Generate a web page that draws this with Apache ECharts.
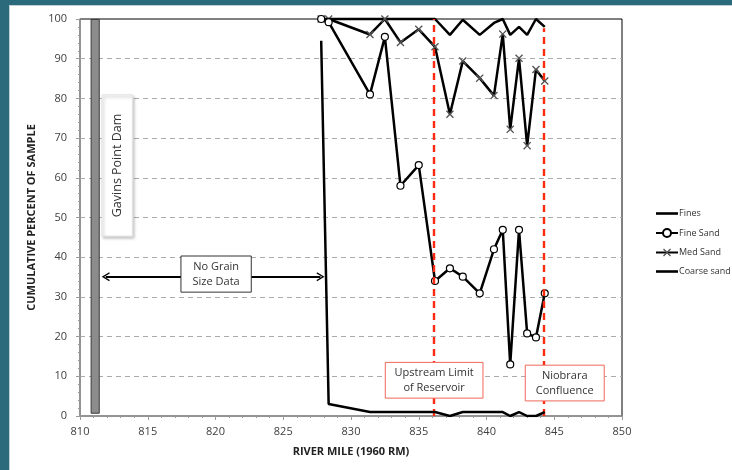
<!DOCTYPE html>
<html><head><meta charset="utf-8">
<script src="https://cdn.jsdelivr.net/npm/echarts@6/dist/echarts.min.js"></script>
<style>
html,body{margin:0;padding:0;width:732px;height:470px;overflow:hidden;background:#2b6a7b;}
#frame{position:absolute;left:9px;top:5px;width:723px;height:465px;background:#fff;border-left:1px solid #c3cfd2;border-top:1px solid #c3cfd2;box-sizing:border-box;}
#c{position:absolute;left:0;top:0;width:732px;height:470px;}
</style></head><body><div id="frame"></div><div id="c"></div>
<script>
// River miles of samples (1960 RM)
const miles      = [827.8, 828.35, 831.4, 832.5, 833.65, 835.0, 836.2, 837.3, 838.25, 839.5, 840.55, 841.2, 841.75, 842.4, 843.0, 843.65, 844.3];
const fines      = [94.5, 3, 1, 1, 1, 1, 1, 0, 1, 1, 1, 1, 0, 1, 0, 0, 1];
const fineSand   = [100, 99.2, 81, 95.5, 58, 63.2, 34, 37.2, 35.1, 30.9, 42, 46.9, 13, 46.9, 20.8, 19.8, 30.9];
const medSand    = [100, 100, 96.1, 100, 94.1, 97.4, 93, 76, 89.4, 85.1, 80.7, 96.2, 72.2, 90.1, 68.1, 87.3, 84.4];
const coarseSand = [100, 100, 100, 100, 100, 100, 100, 96, 99.8, 96, 99, 100, 96, 98, 96, 100, 98];
const seriesNames = ['Fines', 'Fine Sand', 'Med Sand', 'Coarse sand'];
const xTicks = [810, 850, 5];
const yTicks = [0, 100, 10];
const upstreamLimitMile = 836.1;
const niobraraMile = 844.2;
const damMiles = [810.82, 811.42];

const pairs = v => miles.map((m, i) => [m, v[i]]);
const FONT = '"Open Sans", "Noto Sans", sans-serif';
const XPATH = 'path://M0,1.2 L1.2,0 L5,3.8 L8.8,0 L10,1.2 L6.2,5 L10,8.8 L8.8,10 L5,6.2 L1.2,10 L0,8.8 L3.8,5 Z';
const CHEV = 'path://M0,8 L5,0 L10,8 L8.6,8.6 L5,2.6 L1.4,8.6 Z';
const LINEICON = 'path://M0,0 L22,0 L22,2.6 L0,2.6 Z';

const chart = echarts.init(document.getElementById('c'), null, {renderer: 'canvas'});
const lineBase = {type: 'line', xAxisIndex: 0, yAxisIndex: 0, animation: false,
  lineStyle: {color: '#000', width: 2.5}, itemStyle: {color: '#000'}};
const redDash = {color: '#ff2a10', width: 2.4, type: [7, 5]};

const option = {
  animation: false,
  backgroundColor: 'transparent',
  textStyle: {fontFamily: FONT},
  grid: {left: 80, right: 110, top: 19, bottom: 54, containLabel: false,
         show: true, borderColor: '#000', borderWidth: 1, backgroundColor: 'transparent'},
  legend: {
    orient: 'vertical', left: 650, top: 204, itemWidth: 22, itemHeight: 10, itemGap: 10,
    symbolKeepAspect: true,
    textStyle: {fontSize: 9, color: '#333', fontFamily: FONT, padding: [0, 0, 0, -4]},
    data: [
      {name: seriesNames[0], icon: LINEICON, itemStyle: {color: '#000'}},
      {name: seriesNames[1]},
      {name: seriesNames[2]},
      {name: seriesNames[3], icon: LINEICON, itemStyle: {color: '#000'}}
    ]
  },
  xAxis: [
    {type: 'value', min: xTicks[0], max: xTicks[1], interval: xTicks[2], position: 'bottom',
     axisLine: {show: true, onZero: false, lineStyle: {color: '#9a9a9a', width: 1.5}},
     axisTick: {show: true, length: 4, lineStyle: {color: '#9a9a9a'}},
     minorTick: {show: true, splitNumber: 5, length: 2, lineStyle: {color: '#9a9a9a'}},
     axisLabel: {fontSize: 11, color: '#404040', margin: 10, fontFamily: FONT},
     splitLine: {show: false}, minorSplitLine: {show: false},
     name: 'RIVER MILE (1960 RM)', nameLocation: 'middle', nameGap: 30,
     nameTextStyle: {fontSize: 11, fontWeight: 'bold', color: '#222', fontFamily: FONT}}
  ],
  yAxis: [
    {type: 'value', min: yTicks[0], max: yTicks[1], interval: yTicks[2], position: 'left',
     axisLine: {show: true, onZero: false, lineStyle: {color: '#9a9a9a', width: 1.5}},
     axisTick: {show: true, length: 4, lineStyle: {color: '#9a9a9a'}},
     minorTick: {show: true, splitNumber: 5, length: 2, lineStyle: {color: '#9a9a9a'}},
     axisLabel: {fontSize: 11, color: '#404040', margin: 13, fontFamily: FONT},
     splitLine: {show: true, showMinLine: false, showMaxLine: false,
                 lineStyle: {color: '#ababab', type: [5, 4], width: 1}},
     minorSplitLine: {show: false},
     name: 'CUMULATIVE PERCENT OF SAMPLE', nameLocation: 'middle', nameGap: 36,
     nameTextStyle: {fontSize: 11, fontWeight: 'bold', color: '#222', fontFamily: FONT}}
  ],
  series: [
    Object.assign({}, lineBase, {
      name: seriesNames[0], data: pairs(fines), symbol: 'none', z: 5,
      markArea: {silent: true, label: {show: false},
        itemStyle: {color: '#8c8c8c', borderColor: '#3a3a3a', borderWidth: 1},
        data: [[{coord: [damMiles[0], 0.7]}, {coord: [damMiles[1], 99.9]}]]},
      markLine: {silent: true, animation: false, label: {show: false}, symbol: ['none', 'none'],
        lineStyle: {type: 'solid'},
        data: [
          [{coord: [upstreamLimitMile, 0], lineStyle: redDash}, {coord: [upstreamLimitMile, 100]}],
          [{coord: [niobraraMile, 0], lineStyle: redDash}, {coord: [niobraraMile, 97.7]}],
          [{coord: [811.9, 35.1], symbol: CHEV, symbolSize: [9, 8], lineStyle: {color: '#000', width: 2, type: 'solid'}},
           {coord: [827.75, 35.1], symbol: CHEV, symbolSize: [9, 8]}]
        ]}
    }),
    Object.assign({}, lineBase, {
      name: seriesNames[1], data: pairs(fineSand), symbol: 'circle', symbolSize: 7,
      itemStyle: {color: '#fff', borderColor: '#000', borderWidth: 1.2}, z: 4
    }),
    Object.assign({}, lineBase, {
      name: seriesNames[2], data: pairs(medSand), symbol: XPATH, symbolSize: 8,
      itemStyle: {color: '#555'}, z: 3
    }),
    Object.assign({}, lineBase, {
      name: seriesNames[3], data: pairs(coarseSand), symbol: 'none', clip: false
    })
  ]
};
chart.setOption(option);

const P = (x, y) => chart.convertToPixel({seriesIndex: 0}, [x, y]);
function boxAt(x0, y0, x1, y1, text, st, tst) {
  const a = P(x0, y0), b = P(x1, y1);
  const x = Math.min(a[0], b[0]), y = Math.min(a[1], b[1]);
  const w = Math.abs(b[0] - a[0]), h = Math.abs(b[1] - a[1]);
  return [
    {type: 'rect', z: 20, silent: true, shape: {x: x, y: y, width: w, height: h},
     style: Object.assign({fill: '#fff', lineWidth: 1}, st)},
    {type: 'text', z: 21, silent: true, x: x + w / 2, y: y + h / 2, rotation: tst.rotation || 0,
     style: {text: text, fill: '#333', fontSize: tst.fontSize || 11, fontFamily: FONT,
             align: 'center', verticalAlign: 'middle', lineHeight: 15}}
  ];
}
const elements = [].concat(
  boxAt(811.62, 80.9, 813.88, 45.3, 'Gavins Point Dam',
        {stroke: '#e2e2e2', shadowBlur: 3, shadowOffsetX: 1.5, shadowOffsetY: 2, shadowColor: 'rgba(0,0,0,0.28)'},
        {rotation: Math.PI / 2, fontSize: 12.5}),
  boxAt(817.45, 40.3, 822.64, 31.2, 'No Grain\nSize Data', {stroke: '#333'}, {}),
  boxAt(832.53, 13.5, 839.74, 4.5, 'Upstream Limit\nof Reservoir', {stroke: '#f0675a'}, {}),
  boxAt(842.86, 12.8, 848.69, 3.8, 'Niobrara\nConfluence', {stroke: '#f0675a'}, {})
);
chart.setOption({graphic: {elements: elements}});
</script>
</body></html>
